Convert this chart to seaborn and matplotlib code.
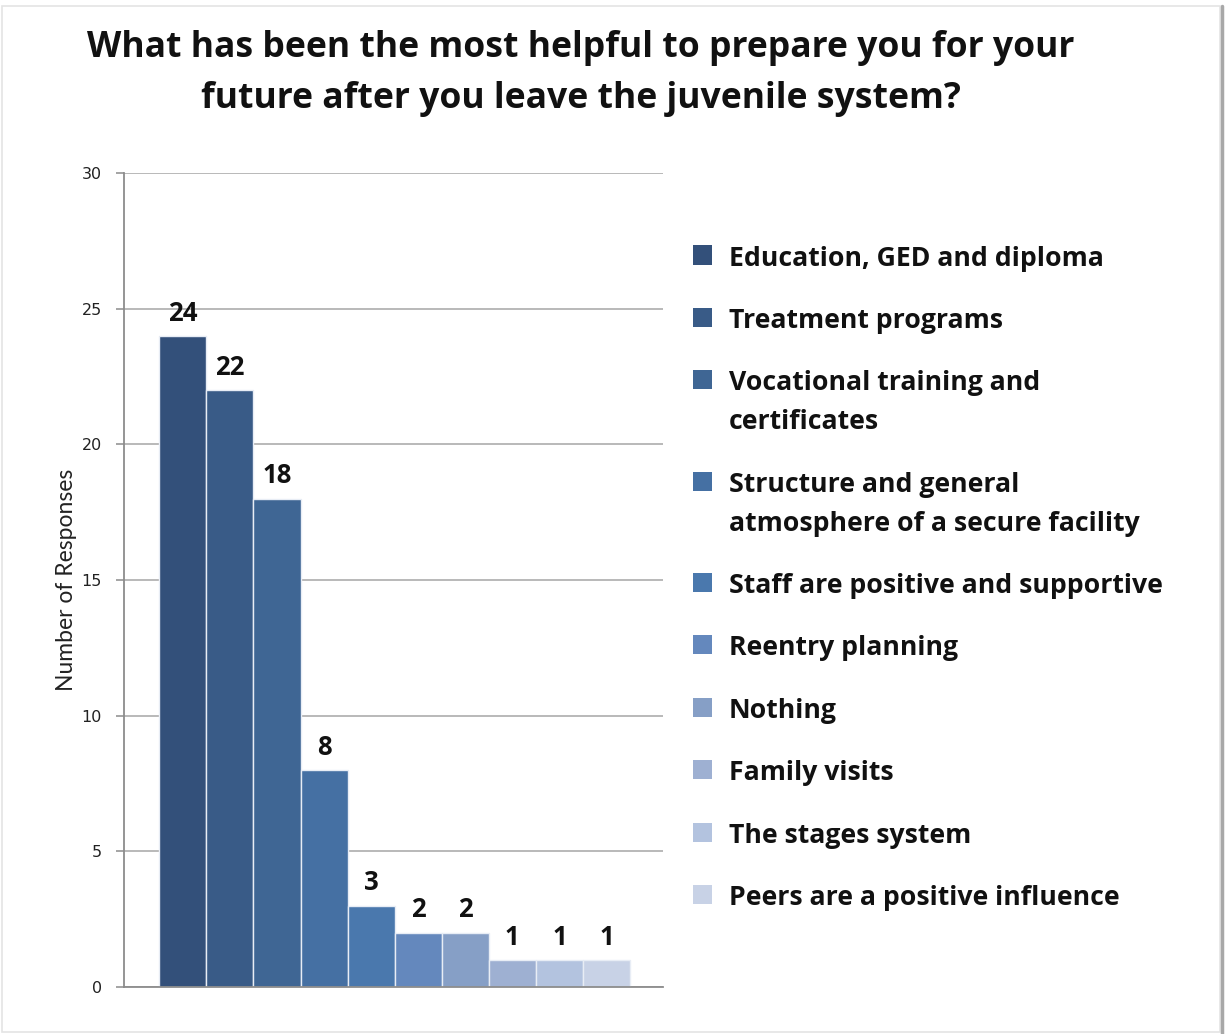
import matplotlib
matplotlib.use("Agg")
import matplotlib.pyplot as plt
from matplotlib.patches import Rectangle
import seaborn as sns
import pandas as pd

categories = [
    "Education, GED and diploma",
    "Treatment programs",
    "Vocational training and\ncertificates",
    "Structure and general\natmosphere of a secure facility",
    "Staff are positive and supportive",
    "Reentry planning",
    "Nothing",
    "Family visits",
    "The stages system",
    "Peers are a positive influence",
]
responses = [24, 22, 18, 8, 3, 2, 2, 1, 1, 1]
bar_colors = ["#33507a", "#395b87", "#3f6694", "#4570a3", "#4a78ad",
              "#6488bd", "#869fc6", "#9eb0d2", "#b3c3df", "#c8d2e6"]
y_ticks = [0, 5, 10, 15, 20, 25, 30]

sns.set_theme(style="white")
plt.rcParams["font.family"] = ["Open Sans", "DejaVu Sans"]

df = pd.DataFrame({"item": categories, "count": responses})

W, H = 1225, 1034
fig = plt.figure(figsize=(W / 100, H / 100), dpi=100)
ax = fig.add_axes([124 / W, 47 / H, 539 / W, 814 / H])

sns.barplot(data=df, x="item", y="count", hue="item", order=categories,
            palette=bar_colors, width=1.0, legend=False, ax=ax,
            edgecolor="#e8edf5", linewidth=1.0, saturation=1)

ax.set_xlim(-1.25, 10.2)
ax.set_ylim(0, 30)
ax.set_yticks(y_ticks)
ax.set_yticklabels([str(t) for t in y_ticks], fontsize=11.5,
                   family="DejaVu Sans", color="#222222")
ax.set_xticks([])
ax.set_xlabel("")
ax.set_ylabel("Number of Responses", fontsize=16.5, family="Lato",
              color="#222222", labelpad=3)
ax.yaxis.grid(True, color="#a6a6a6", linewidth=1.1)
ax.set_axisbelow(True)
ax.tick_params(axis="y", length=6, width=1.1, color="#8c8c8c", pad=10, left=True)
for side in ["top", "right"]:
    ax.spines[side].set_visible(False)
for side in ["left", "bottom"]:
    ax.spines[side].set_color("#8c8c8c")
    ax.spines[side].set_linewidth(1.3)

# value labels above each bar
for i, v in enumerate(responses):
    ax.annotate(str(v), (i, v), xytext=(0, 11), textcoords="offset points",
                ha="center", va="baseline", fontsize=18.5, fontweight="bold",
                color="#111111")

# title, two centred lines
fig.text(581 / W, 1 - 57 / H,
         "What has been the most helpful to prepare you for your",
         ha="center", va="baseline", fontsize=25.6, fontweight="bold",
         color="#111111")
fig.text(581 / W, 1 - 108 / H,
         "future after you leave the juvenile system?",
         ha="center", va="baseline", fontsize=25.6, fontweight="bold",
         color="#111111")

# legend, one entry per category (centre y of each square)
entry_y = [255, 317, 379, 481, 582, 644, 707, 769, 832, 894]
line_step = 39
for label, color, y in zip(categories, bar_colors, entry_y):
    fig.patches.append(Rectangle((693 / W, 1 - (y + 9.5) / H),
                                 19 / W, 19 / H,
                                 transform=fig.transFigure, facecolor=color,
                                 edgecolor="none"))
    for k, line in enumerate(label.split("\n")):
        fig.text(729 / W, 1 - (y + 11 + k * line_step) / H, line,
                 ha="left", va="baseline", fontsize=19.2, fontweight="bold",
                 color="#111111")

# frame around the figure
fig.patches.append(Rectangle((0.002, 0.002), 0.994, 0.992,
                             transform=fig.transFigure, fill=False,
                             edgecolor="#e4e4e4", linewidth=1.2))
fig.add_artist(plt.Line2D([1222 / W, 1222 / W], [0.0, 0.994],
                          transform=fig.transFigure, color="#a8a8a8",
                          linewidth=2.5))

fig.savefig("out.png", dpi=100, facecolor="white")
